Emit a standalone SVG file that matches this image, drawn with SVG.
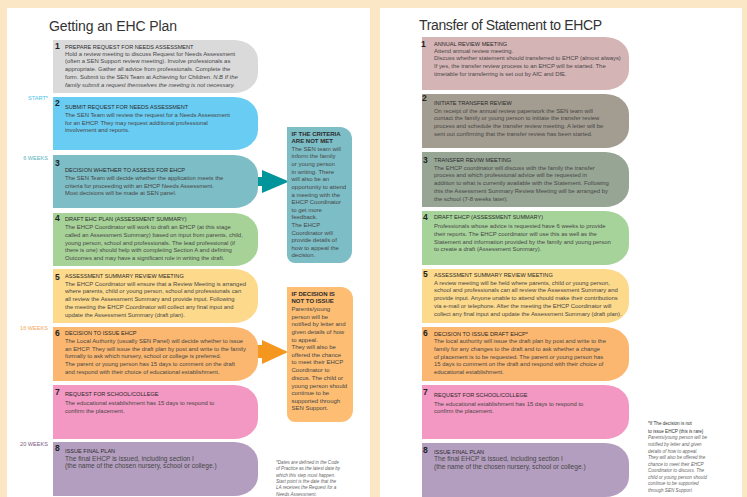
<svg xmlns="http://www.w3.org/2000/svg" width="747" height="497" viewBox="0 0 747 497">
<style>
text{font-family:"Liberation Sans",Arial,sans-serif}
.h{font-size:14px;fill:#333}
.n{font-size:8.5px;font-weight:bold;fill:#222}
.t{font-size:5.6px;fill:#2a2a2a}
.b{font-size:5.9px;fill:#474747}
.b8{font-size:6.6px;fill:#474747}
.c{font-size:6px;fill:#474747}
.ct{font-size:6px;fill:#2a2a2a;font-weight:bold}
.w{font-size:5.6px;text-anchor:end}
.f{font-size:4.6px;fill:#666;font-style:italic}
.fd{font-size:4.6px;fill:#333}
</style>
<rect width="747" height="497" fill="#fbe7c6"/>
<rect x="7" y="8" width="363" height="489" fill="#fff"/>
<rect x="380" y="8" width="362" height="489" fill="#fff"/>

<text class="h" x="49" y="30.5" textLength="128">Getting an EHC Plan</text>
<text class="h" x="419" y="30" textLength="183">Transfer of Statement to EHCP</text>

<g id="weeks">
<text class="w" x="48" y="100" fill="#48c3ea">START*</text>
<text class="w" x="48" y="160" fill="#5ab4bd">6 WEEKS</text>
<text class="w" x="48" y="330" fill="#f3a85a">16 WEEKS</text>
<text class="w" x="48" y="446" fill="#7d5a80">20 WEEKS</text>
</g>

<g id="connectors">
<path d="M255,177 H262 V170 L289,181.5 L262,193 V186 H255 Z" fill="#00959a"/>
<path d="M255,345 H262 V340 L288,352 L262,364 V358 H255 Z" fill="#f5971f"/>
</g>

<g id="L1">
<path d="M53,40 H234 A24,20 0 0 1 258,60 V73 A24,20 0 0 1 234,93 H53 Z" fill="#dadadb"/>
<text class="n" x="55" y="49">1</text>
<text class="t" x="65" y="48.7">PREPARE REQUEST FOR NEEDS ASSESSMENT</text>
<text class="b" x="65" y="55.7">Hold a review meeting to discuss Request for Needs Assessment</text>
<text class="b" x="65" y="63.4">(often a SEN Support review meeting). Involve professionals as</text>
<text class="b" x="65" y="71.1">appropriate. Gather all advice from professionals. Complete the</text>
<text class="b" x="65" y="78.8">form. Submit to the SEN Team at Achieving for Children. <tspan font-style="italic">N.B If the</tspan></text>
<text class="b" x="65" y="86.5" font-style="italic">family submit a request themselves the meeting is not necessary.</text>
</g>

<g id="L2">
<path d="M53,97 H234 A24,20 0 0 1 258,117 V130 A24,20 0 0 1 234,150 H53 Z" fill="#69ccf3"/>
<text class="n" x="55" y="106">2</text>
<text class="t" x="65" y="109.3">SUBMIT REQUEST FOR NEEDS ASSESSMENT</text>
<text class="b" x="65" y="117">The SEN Team will review the request for a Needs Assessment</text>
<text class="b" x="65" y="124.7">for an EHCP. They may request additional professional</text>
<text class="b" x="65" y="132.4">involvement and reports.</text>
</g>

<g id="L3">
<path d="M53,155 H234 A24,20 0 0 1 258,175 V188 A24,20 0 0 1 234,208 H53 Z" fill="#7dbdc6"/>
<text class="n" x="55" y="166.3">3</text>
<text class="t" x="65" y="171.7">DECISION WHETHER TO ASSESS FOR EHCP</text>
<text class="b" x="65" y="180">The SEN Team will decide whether the application meets the</text>
<text class="b" x="65" y="187.7">criteria for proceeding with an EHCP Needs Assessment.</text>
<text class="b" x="65" y="195.4">Most decisions will be made at SEN panel.</text>
</g>

<g id="L4">
<path d="M53,213 H234 A24,20 0 0 1 258,233 V246 A24,20 0 0 1 234,266 H53 Z" fill="#a6d298"/>
<text class="n" x="55" y="221">4</text>
<text class="t" x="65" y="220.7">DRAFT EHC PLAN (ASSESSMENT SUMMARY)</text>
<text class="b" x="65" y="228.7">The EHCP Coordinator will work to draft an EHCP (at this stage</text>
<text class="b" x="65" y="236.6">called an Assessment Summary) based on input from parents, child,</text>
<text class="b" x="65" y="244.5">young person, school and professionals. The lead professional (if</text>
<text class="b" x="65" y="252.4">there is one) should help with completing Section A and defining</text>
<text class="b" x="65" y="260.3">Outcomes and may have a significant role in writing the draft.</text>
</g>

<g id="L5">
<path d="M53,269 H234 A24,20 0 0 1 258,289 V303 A24,20 0 0 1 234,323 H53 Z" fill="#fdd98b"/>
<text class="n" x="55" y="280">5</text>
<text class="t" x="65" y="277.7">ASSESSMENT SUMMARY REVIEW MEETING</text>
<text class="b" x="65" y="285.7">The EHCP Coordinator will ensure that a Review Meeting is arranged</text>
<text class="b" x="65" y="293.4">where parents, child or young person, school and professionals can</text>
<text class="b" x="65" y="301.1">all review the Assessment Summary and provide input. Following</text>
<text class="b" x="65" y="308.8">the meeting the EHCP Coordinator will collect any final input and</text>
<text class="b" x="65" y="316.5">update the Assessment Summary (draft plan).</text>
</g>

<g id="L6">
<path d="M53,327 H234 A24,20 0 0 1 258,347 V361 A24,20 0 0 1 234,381 H53 Z" fill="#fbb76f"/>
<text class="n" x="55" y="336">6</text>
<text class="t" x="65" y="335">DECISION TO ISSUE EHCP</text>
<text class="b" x="65" y="343">The Local Authority (usually SEN Panel) will decide whether to issue</text>
<text class="b" x="65" y="350.7">an EHCP. They will issue the draft plan by post and write to the family</text>
<text class="b" x="65" y="358.4">formally to ask which nursery, school or college is preferred.</text>
<text class="b" x="65" y="366.1">The parent or young person has 15 days to comment on the draft</text>
<text class="b" x="65" y="373.8">and respond with their choice of educational establishment.</text>
</g>

<g id="L7">
<path d="M53,385 H234 A24,20 0 0 1 258,405 V419 A24,20 0 0 1 234,439 H53 Z" fill="#f398c2"/>
<text class="n" x="55" y="395">7</text>
<text class="t" x="65" y="396.3">REQUEST FOR SCHOOL/COLLEGE</text>
<text class="b" x="65" y="405">The educational establishment has 15 days to respond to</text>
<text class="b" x="65" y="412.5">confirm the placement.</text>
</g>

<g id="L8">
<path d="M53,442 H234 A24,20 0 0 1 258,462 V476 A24,20 0 0 1 234,496 H53 Z" fill="#b49ebf"/>
<text class="n" x="55" y="450.7">8</text>
<text class="t" x="65" y="452.7">ISSUE FINAL PLAN</text>
<text class="b8" x="65" y="460.5">The final EHCP is issued, including section I</text>
<text class="b8" x="65" y="468.2">(the name of the chosen nursery, school or college.)</text>
</g>

<g id="callout-criteria">
<path d="M287,127 H340 A12,12 0 0 1 352,139 V251 A12,12 0 0 1 340,263 H295 A8,8 0 0 1 287,255 Z" fill="#7dbdc6"/>
<text class="ct" x="291.5" y="136">IF THE CRITERIA</text>
<text class="ct" x="291.5" y="143">ARE NOT MET</text>
<text class="c" x="291.5" y="150.7">The SEN team will</text>
<text class="c" x="291.5" y="158.3">inform the family</text>
<text class="c" x="291.5" y="166">or young person</text>
<text class="c" x="291.5" y="173.5">in writing. There</text>
<text class="c" x="291.5" y="181">will also be an</text>
<text class="c" x="291.5" y="188.7">opportunity to attend</text>
<text class="c" x="291.5" y="196.5">a meeting with the</text>
<text class="c" x="291.5" y="204.2">EHCP Coordinator</text>
<text class="c" x="291.5" y="212">to get more</text>
<text class="c" x="291.5" y="219.4">feedback.</text>
<text class="c" x="291.5" y="227">The EHCP</text>
<text class="c" x="291.5" y="234.8">Coordinator will</text>
<text class="c" x="291.5" y="242.4">provide details of</text>
<text class="c" x="291.5" y="250">how to appeal the</text>
<text class="c" x="291.5" y="257.4">decision.</text>
</g>

<g id="callout-issue">
<path d="M287,287 H341 A12,12 0 0 1 353,299 V410 A12,12 0 0 1 341,422 H295 A8,8 0 0 1 287,414 Z" fill="#fdbd72"/>
<text class="ct" x="291.5" y="295.7">IF DECISION IS</text>
<text class="ct" x="291.5" y="303.3">NOT TO ISSUE</text>
<text class="c" x="291.5" y="311">Parents/young</text>
<text class="c" x="291.5" y="318.5">person will be</text>
<text class="c" x="291.5" y="326">notified by letter and</text>
<text class="c" x="291.5" y="333.7">given details of how</text>
<text class="c" x="291.5" y="341.5">to appeal.</text>
<text class="c" x="291.5" y="349">They will also be</text>
<text class="c" x="291.5" y="356.7">offered the chance</text>
<text class="c" x="291.5" y="364.4">to meet their EHCP</text>
<text class="c" x="291.5" y="372.2">Coordinator to</text>
<text class="c" x="291.5" y="380">discus. The child or</text>
<text class="c" x="291.5" y="387.5">young person should</text>
<text class="c" x="291.5" y="395">continue to be</text>
<text class="c" x="291.5" y="402.7">supported through</text>
<text class="c" x="291.5" y="410.3">SEN Support.</text>
</g>

<g id="footnote-left">
<text class="f" x="276" y="464">*Dates are defined in the Code</text>
<text class="f" x="276" y="470.3">of Practice as the latest date by</text>
<text class="f" x="276" y="476.6">which this step must happen.</text>
<text class="f" x="276" y="482.9">Start point is the date that the</text>
<text class="f" x="276" y="489.2">LA receives the Request for a</text>
<text class="f" x="276" y="495.5">Needs Assessment.</text>
</g>

<g id="R1">
<path d="M422,37 H605 A24,20 0 0 1 629,57 V70 A24,20 0 0 1 605,90 H422 Z" fill="#d5b4b5"/>
<text class="n" x="421" y="46.7">1</text>
<text class="t" x="434" y="46">ANNUAL REVIEW MEETING</text>
<text class="b" x="434" y="52.7">Attend annual review meeting.</text>
<text class="b" x="434" y="60.3">Discuss whether statement should transferred to EHCP (almost always)</text>
<text class="b" x="434" y="68">If yes, the transfer review process to an EHCP will be started. The</text>
<text class="b" x="434" y="75.7">timetable for transferring is set out by AfC and DfE.</text>
</g>

<g id="R2">
<path d="M422,94 H605 A24,20 0 0 1 629,114 V128 A24,20 0 0 1 605,148 H422 Z" fill="#a39c90"/>
<text class="n" x="422" y="101">2</text>
<text class="t" x="434" y="105.3">INITIATE TRANSFER REVIEW</text>
<text class="b" x="434" y="112.7">On receipt of the annual review paperwork the SEN team will</text>
<text class="b" x="434" y="120.3">contact the family or young person to initiate the transfer review</text>
<text class="b" x="434" y="128">process and schedule the transfer review meeting. A letter will be</text>
<text class="b" x="434" y="135.7">sent out confirming that the transfer review has been started.</text>
</g>

<g id="R3">
<path d="M422,152 H605 A24,20 0 0 1 629,172 V187 A24,20 0 0 1 605,207 H422 Z" fill="#97a595"/>
<text class="n" x="423" y="162.7">3</text>
<text class="t" x="434" y="162">TRANSFER REVIW MEETING</text>
<text class="b" x="434" y="169.7">The EHCP coordinator will discuss with the family the transfer</text>
<text class="b" x="434" y="177.4">process and which professional advice will be requested in</text>
<text class="b" x="434" y="185.2">addition to what is currently available with the Statement. Following</text>
<text class="b" x="434" y="193">this the Assessment Summary Review Meeting will be arranged by</text>
<text class="b" x="434" y="200.5">the school (7-8 weeks later).</text>
</g>

<g id="R4">
<path d="M422,211 H605 A24,20 0 0 1 629,231 V245 A24,20 0 0 1 605,265 H422 Z" fill="#a6d39a"/>
<text class="n" x="423" y="220">4</text>
<text class="t" x="434" y="219.3">DRAFT EHCP (ASSESSMENT SUMMARY)</text>
<text class="b" x="434" y="227.7">Professionals whose advice is requested have 6 weeks to provide</text>
<text class="b" x="434" y="235.6">their reports. The EHCP coordinator will use this as well as the</text>
<text class="b" x="434" y="243.5">Statement and information provided by the family and young person</text>
<text class="b" x="434" y="251.3">to create a draft (Assessment Summary).</text>
</g>

<g id="R5">
<path d="M422,269 H605 A24,20 0 0 1 629,289 V303 A24,20 0 0 1 605,323 H422 Z" fill="#fdd98b"/>
<text class="n" x="423" y="277.3">5</text>
<text class="t" x="434" y="276.7">ASSESSMENT SUMMARY REVIEW MEETING</text>
<text class="b" x="434" y="284.7">A review meeting will be held where parents, child or young person,</text>
<text class="b" x="434" y="292.4">school and professionals can all review the Assessment Summary and</text>
<text class="b" x="434" y="300.1">provide input. Anyone unable to attend should make their contributions</text>
<text class="b" x="434" y="307.9">via e-mail or telephone. After the meeting the EHCP Coordinator will</text>
<text class="b" x="434" y="315.7">collect any final input and update the Assessment Summary (draft plan).</text>
</g>

<g id="R6">
<path d="M422,327 H605 A24,20 0 0 1 629,347 V361 A24,20 0 0 1 605,381 H422 Z" fill="#fbb76f"/>
<text class="n" x="423" y="336">6</text>
<text class="t" x="434" y="335.7">DECISION TO ISSUE DRAFT EHCP*</text>
<text class="b" x="434" y="343.3">The local authority will issue the draft plan by post and write to the</text>
<text class="b" x="434" y="351">family for any changes to the draft and to ask whether a change</text>
<text class="b" x="434" y="358.7">of placement is to be requested. The parent or young person has</text>
<text class="b" x="434" y="366.4">15 days to comment on the draft and respond with their choice of</text>
<text class="b" x="434" y="374">educational establishment.</text>
</g>

<g id="R7">
<path d="M422,385 H605 A24,20 0 0 1 629,405 V419 A24,20 0 0 1 605,439 H422 Z" fill="#f398c2"/>
<text class="n" x="423" y="395">7</text>
<text class="t" x="434" y="397">REQUEST FOR SCHOOL/COLLEGE</text>
<text class="b" x="434" y="405.7">The educational establishment has 15 days to respond to</text>
<text class="b" x="434" y="413.3">confirm the placement.</text>
</g>

<g id="R8">
<path d="M422,443 H605 A24,20 0 0 1 629,463 V477 A24,20 0 0 1 605,497 H422 Z" fill="#b49ebf"/>
<text class="n" x="423" y="452.7">8</text>
<text class="t" x="434" y="453.5">ISSUE FINAL PLAN</text>
<text class="b8" x="434" y="461.2">The final EHCP is issued, including section I</text>
<text class="b8" x="434" y="469">(the name of the chosen nursery, school or college.)</text>
</g>

<g id="footnote-right">
<text class="fd" x="648" y="425">*If The decision is not</text>
<text class="fd" x="648" y="432.5">to issue EHCP (this is rare)</text>
<text class="f" x="648" y="439.3">Parents/young person will be</text>
<text class="f" x="648" y="446">notified by letter and given</text>
<text class="f" x="648" y="452.6">details of how to appeal.</text>
<text class="f" x="648" y="459.1">They will also be offered the</text>
<text class="f" x="648" y="465.7">chance to meet their EHCP</text>
<text class="f" x="648" y="472.3">Coordinator to discuss. The</text>
<text class="f" x="648" y="478.9">child or young person should</text>
<text class="f" x="648" y="485.4">continue to be supported</text>
<text class="f" x="648" y="491.8">through SEN Support.</text>
</g>
</svg>
